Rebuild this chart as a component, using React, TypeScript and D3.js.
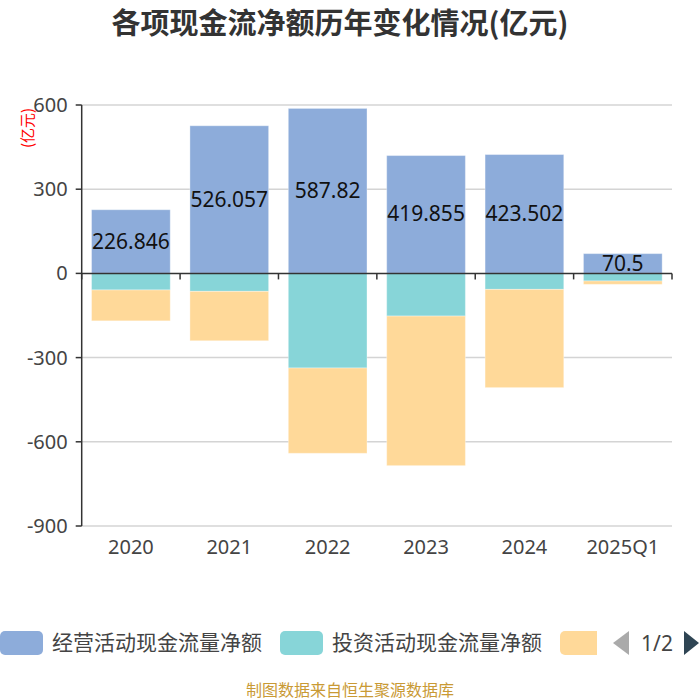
import * as d3 from "d3";

const categories = ["2020", "2021", "2022", "2023", "2024", "2025Q1"];
const operating = [226.846, 526.057, 587.82, 419.855, 423.502, 70.5];
const investing = [-59, -64, -337, -152, -57, -27];
const financing = [-110, -176, -304, -533, -350, -12];
const yTicks = [600, 300, 0, -300, -600, -900];

const seriesNames = ["经营活动现金流量净额", "投资活动现金流量净额"];
const colors = ["#8DACDA", "#87D5D8", "#FFD999"];

const W = 700;
const H = 700;
const left = 81.7;
const right = 672;
const top = 105;
const bottom = 526;

export default function App() {
  const x = d3.scaleBand<string>().domain(categories).range([left, right]).paddingInner(0.2).paddingOuter(0.1);
  const y = d3.scaleLinear().domain([-900, 600]).range([bottom, top]);

  // stack positives and negatives separately, like echarts does
  const all = [operating, investing, financing];
  const rects: { key: string; x: number; y0: number; y1: number; fill: string }[] = [];
  categories.forEach((c, i) => {
    let pos = 0;
    let neg = 0;
    all.forEach((s, si) => {
      const v = s[i];
      let a, b;
      if (v >= 0) { a = pos; b = pos + v; pos = b; } else { a = neg; b = neg + v; neg = b; }
      rects.push({ key: `${c}-${si}`, x: x(c)!, y0: y(a), y1: y(b), fill: colors[si] });
    });
  });

  const step = x.step();
  const bounds = d3.range(categories.length + 1).map((i) => left + i * step);
  const num = "'Noto Sans', 'DejaVu Sans', sans-serif";
  const cjk = "'Noto Sans CJK SC', sans-serif";

  return (
    <svg width={W} height={H} style={{ position: "absolute", left: 0, top: 0, background: "#fff" }}>
      <text x={340} y={34} textAnchor="middle" fontSize="29" fontWeight="bold" fontFamily={cjk} fill="#333">各项现金流净额历年变化情况(亿元)</text>

      {yTicks.filter((t) => t !== 0).map((t) => (
        <line key={`g${t}`} x1={left} x2={right} y1={y(t)} y2={y(t)} stroke="#d4d4d4" strokeWidth={1.5} />
      ))}

      {rects.map((r) => (
        <rect key={r.key} x={r.x} width={x.bandwidth()} y={Math.min(r.y0, r.y1)} height={Math.abs(r.y1 - r.y0)}
          fill={r.fill} stroke="#fff" strokeOpacity={0.35} strokeWidth={1} />
      ))}

      {categories.map((c, i) => (
        <text key={`l${c}`} x={x(c)! + x.bandwidth() / 2} y={(y(0) + y(operating[i])) / 2 + 7} textAnchor="middle"
          fontSize="21" fontFamily={num} fill="#111">{operating[i]}</text>
      ))}

      {/* y axis */}
      <line x1={left} x2={left} y1={top} y2={bottom} stroke="#333" strokeWidth={1.5} />
      {yTicks.map((t) => (
        <g key={`y${t}`}>
          <line x1={left - 6} x2={left} y1={y(t)} y2={y(t)} stroke="#333" strokeWidth={1.5} />
          <text x={left - 14} y={y(t) + 7} textAnchor="end" fontSize="20" fontFamily={num} fill="#444">{t}</text>
        </g>
      ))}
      <text transform={`translate(33,128) rotate(-90)`} textAnchor="middle" fontSize="15" fontFamily={cjk} fill="#f00">(亿元)</text>

      {/* x axis on zero */}
      <line x1={left} x2={right} y1={y(0)} y2={y(0)} stroke="#333" strokeWidth={1.5} />
      {bounds.map((b, i) => (
        <line key={`t${i}`} x1={b} x2={b} y1={y(0)} y2={y(0) + 6} stroke="#333" strokeWidth={1.5} />
      ))}
      {categories.map((c) => (
        <text key={`x${c}`} x={x(c)! + x.bandwidth() / 2} y={554} textAnchor="middle" fontSize="20" fontFamily={num} fill="#444">{c}</text>
      ))}

      {/* legend, page 1 of 2 */}
      <rect x={0} y={631} width={43} height={24} rx={5} fill={colors[0]} />
      <text x={52} y={650} fontSize="21" fontFamily={cjk} fill="#444">{seriesNames[0]}</text>
      <rect x={280} y={631} width={43} height={24} rx={5} fill={colors[1]} />
      <text x={332} y={650} fontSize="21" fontFamily={cjk} fill="#444">{seriesNames[1]}</text>
      <rect x={560} y={631} width={43} height={24} rx={5} fill={colors[2]} />
      <rect x={597} y={625} width={14} height={36} fill="#fff" />
      <path d="M629,631 L613,643 L629,655 Z" fill="#aaa" />
      <text x={657} y={651} textAnchor="middle" fontSize="21" fontFamily={num} fill="#444">1/2</text>
      <path d="M684,631 L699,643 L684,655 Z" fill="#2f4554" />

      <text x={350} y={696} textAnchor="middle" fontSize="16" fontFamily={cjk} fill="#c99a35">制图数据来自恒生聚源数据库</text>
    </svg>
  );
}
